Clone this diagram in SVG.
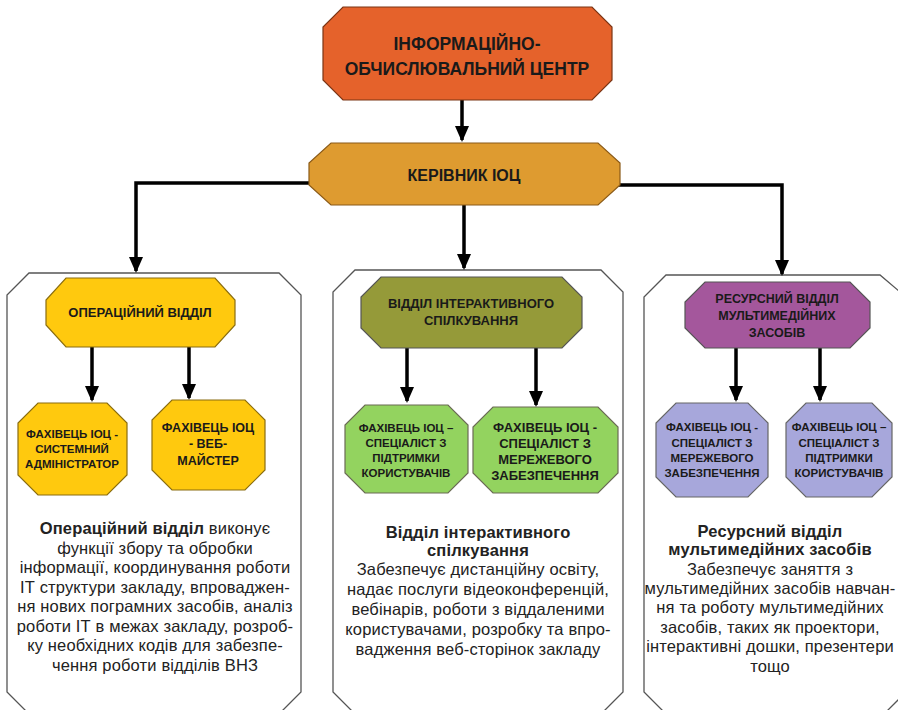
<svg xmlns="http://www.w3.org/2000/svg" width="898" height="710" viewBox="0 0 898 710">
<style>
.panel{fill:#fff;stroke:#555;stroke-width:1.3}
.hd{font-family:"Liberation Sans",Arial,sans-serif;font-weight:bold;fill:#1a1a1a;text-anchor:middle}
.body{font-family:"Liberation Sans",Arial,sans-serif;font-size:16.5px;letter-spacing:0.15px;fill:#222;text-anchor:middle}
.b{font-weight:bold}
.conn{stroke:#000;stroke-width:3.5;fill:none}
</style>
<defs>
<marker id="ah" markerUnits="userSpaceOnUse" markerWidth="16" markerHeight="16" refX="14" refY="7" orient="auto">
<path d="M0,0 L16,7 L0,14 z" fill="#000"/>
</marker>
</defs>
<rect width="898" height="710" fill="#fff"/>

<g id="panel-left"><polygon class="panel" points="29,273 279,273 301,295 301,692 279,714 29,714 7,692 7,295"/>
<text class="body"><tspan x="155" y="534"><tspan class="b">Операційний відділ</tspan> виконує</tspan><tspan x="155" y="553.5">функції збору та обробки</tspan><tspan x="155" y="573">інформації, координування роботи</tspan><tspan x="155" y="592.5">ІТ структури закладу, впроваджен-</tspan><tspan x="155" y="612">ня нових пограмних засобів, аналіз</tspan><tspan x="155" y="631.5">роботи ІТ в межах закладу, розроб-</tspan><tspan x="155" y="651">ку необхідних кодів для забезпе-</tspan><tspan x="155" y="670.5">чення роботи відділів ВНЗ</tspan></text>
</g>
<g id="panel-mid"><polygon class="panel" points="355,270 601,270 623,292 623,692 601,714 355,714 333,692 333,292"/>
<text class="body"><tspan class="b" x="478" y="538">Відділ інтерактивного</tspan><tspan class="b" x="478" y="556">спілкування</tspan><tspan x="478" y="575">Забезпечує дистанційну освіту,</tspan><tspan x="478" y="595">надає послуги відеоконференцій,</tspan><tspan x="478" y="615">вебінарів, роботи з віддаленими</tspan><tspan x="478" y="635">користувачами, розробку та впро-</tspan><tspan x="478" y="655">вадження веб-сторінок закладу</tspan></text>
</g>
<g id="panel-right"><polygon class="panel" points="666,275 880,275 906,297 906,692 884,714 666,714 644,692 644,297"/>
<text class="body"><tspan class="b" x="770" y="537">Ресурсний відділ</tspan><tspan class="b" x="770" y="555">мультимедійних засобів</tspan><tspan x="770" y="575">Забезпечує заняття з</tspan><tspan x="770" y="594">мультимедійних засобів навчан-</tspan><tspan x="770" y="613">ня та роботу мультимедійних</tspan><tspan x="770" y="633">засобів, таких як проектори,</tspan><tspan x="770" y="652">інтерактивні дошки, презентери</tspan><tspan x="770" y="672">тощо</tspan></text>
</g>

<g id="connectors">
<path class="conn" marker-end="url(#ah)" d="M462,100 L462,140"/>
<path class="conn" marker-end="url(#ah)" d="M312,183 L136,183 L136,271"/>
<path class="conn" marker-end="url(#ah)" d="M464,205 L464,268"/>
<path class="conn" marker-end="url(#ah)" d="M617,185 L782,185 L782,274"/>
<path class="conn" marker-end="url(#ah)" d="M92,347 L92,400"/>
<path class="conn" marker-end="url(#ah)" d="M189,347 L189,398"/>
<path class="conn" marker-end="url(#ah)" d="M407,348 L407,401"/>
<path class="conn" marker-end="url(#ah)" d="M536,348 L536,405"/>
<path class="conn" marker-end="url(#ah)" d="M736,348 L736,400"/>
<path class="conn" marker-end="url(#ah)" d="M820,348 L820,400"/>
</g>

<g id="node-ioc"><polygon points="343,7 592,7 612,27 612,80 592,100 343,100 323,80 323,27" fill="#E5622B" stroke="#7a3515" stroke-width="1.2"/>
<text class="hd" font-size="17.5"><tspan x="467" y="50">ІНФОРМАЦІЙНО-</tspan><tspan x="467" y="75">ОБЧИСЛЮВАЛЬНИЙ ЦЕНТР</tspan></text></g>

<g id="node-head"><polygon points="331,143 598,143 620,163 620,185 598,205 331,205 309,185 309,163" fill="#DE9B30" stroke="#8a5a18" stroke-width="1.2"/>
<text class="hd" font-size="16" x="464" y="181">КЕРІВНИК ІОЦ</text></g>

<g id="node-op"><polygon points="66,278 215,278 235,300 235,325 215,347 66,347 46,325 46,300" fill="#FFC90E" stroke="#8a6d10" stroke-width="1.2"/>
<text class="hd" font-size="13" x="140" y="317">ОПЕРАЦІЙНИЙ ВІДДІЛ</text></g>

<g id="node-sysadm"><polygon points="38,403 107,403 127,423 127,475 107,495 38,495 18,475 18,423" fill="#FFC90E" stroke="#8a6d10" stroke-width="1.2"/>
<text class="hd" font-size="11.5"><tspan x="72" y="438">ФАХІВЕЦЬ ІОЦ -</tspan><tspan x="72" y="453">СИСТЕМНИЙ</tspan><tspan x="72" y="468">АДМІНІСТРАТОР</tspan></text></g>

<g id="node-web"><polygon points="172,400 245,400 265,420 265,470 245,490 172,490 152,470 152,420" fill="#FFC90E" stroke="#8a6d10" stroke-width="1.2"/>
<text class="hd" font-size="12.5"><tspan x="208" y="432">ФАХІВЕЦЬ ІОЦ</tspan><tspan x="208" y="448">- ВЕБ-</tspan><tspan x="208" y="465">МАЙСТЕР</tspan></text></g>

<g id="node-inter"><polygon points="381,277 562,277 582,297 582,328 562,348 381,348 361,328 361,297" fill="#959A39" stroke="#555" stroke-width="1.2"/>
<text class="hd" font-size="13"><tspan x="471" y="308">ВІДДІЛ ІНТЕРАКТИВНОГО</tspan><tspan x="471" y="325">СПІЛКУВАННЯ</tspan></text></g>

<g id="node-support1"><polygon points="365,405 448,405 468,425 468,473 448,493 365,493 345,473 345,425" fill="#93D35F" stroke="#6b6b55" stroke-width="1.2"/>
<text class="hd" font-size="11.5"><tspan x="406" y="432">ФАХІВЕЦЬ ІОЦ –</tspan><tspan x="406" y="447">СПЕЦІАЛІСТ З</tspan><tspan x="406" y="462">ПІДТРИМКИ</tspan><tspan x="406" y="477">КОРИСТУВАЧІВ</tspan></text></g>

<g id="node-net1"><polygon points="493,407 598,407 618,427 618,473 598,493 493,493 473,473 473,427" fill="#93D35F" stroke="#6b6b55" stroke-width="1.2"/>
<text class="hd" font-size="13"><tspan x="545" y="432">ФАХІВЕЦЬ ІОЦ -</tspan><tspan x="545" y="448">СПЕЦІАЛІСТ З</tspan><tspan x="545" y="464">МЕРЕЖЕВОГО</tspan><tspan x="545" y="480">ЗАБЕЗПЕЧЕННЯ</tspan></text></g>

<g id="node-res"><polygon points="705,282 850,282 870,302 870,328 850,348 705,348 685,328 685,302" fill="#A4579C" stroke="#555" stroke-width="1.2"/>
<text class="hd" font-size="12.5"><tspan x="777" y="303">РЕСУРСНИЙ ВІДДІЛ</tspan><tspan x="777" y="320">МУЛЬТИМЕДІЙНИХ</tspan><tspan x="777" y="337">ЗАСОБІВ</tspan></text></g>

<g id="node-net2"><polygon points="676,403 748,403 768,423 768,477 748,497 676,497 656,477 656,423" fill="#A7A7DB" stroke="#666" stroke-width="1.2"/>
<text class="hd" font-size="11.5"><tspan x="712" y="431">ФАХІВЕЦЬ ІОЦ -</tspan><tspan x="712" y="447">СПЕЦІАЛІСТ З</tspan><tspan x="712" y="462">МЕРЕЖЕВОГО</tspan><tspan x="712" y="477">ЗАБЕЗПЕЧЕННЯ</tspan></text></g>

<g id="node-support2"><polygon points="806,403 872,403 892,423 892,477 872,497 806,497 786,477 786,423" fill="#A7A7DB" stroke="#666" stroke-width="1.2"/>
<text class="hd" font-size="11.5"><tspan x="839" y="431">ФАХІВЕЦЬ ІОЦ –</tspan><tspan x="839" y="447">СПЕЦІАЛІСТ З</tspan><tspan x="839" y="462">ПІДТРИМКИ</tspan><tspan x="839" y="477">КОРИСТУВАЧІВ</tspan></text></g>
</svg>
